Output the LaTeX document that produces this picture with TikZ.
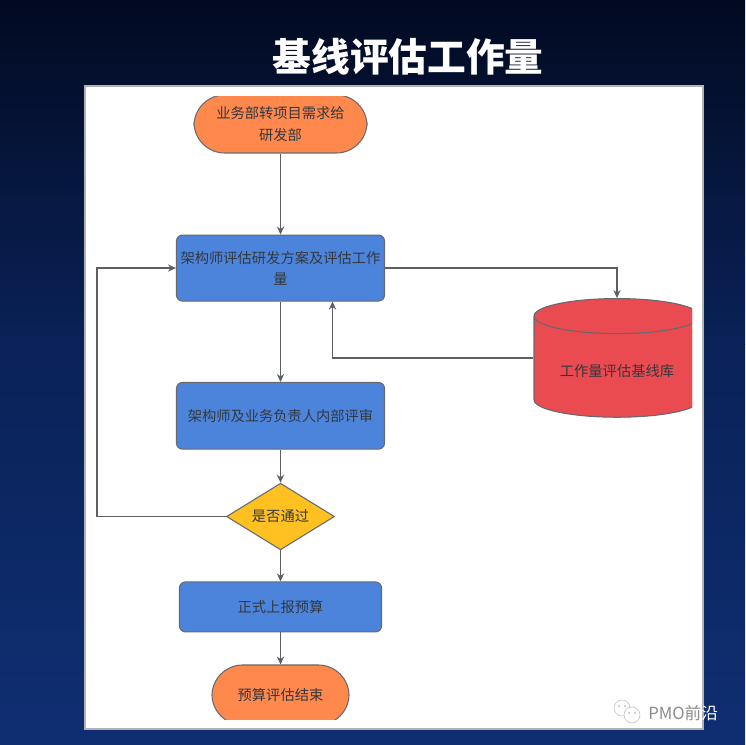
\documentclass[tikz,border=0pt]{standalone}
\usepackage{xcolor}
\usepackage{fontspec}
\usepackage{tikz}
\usetikzlibrary{arrows.meta,positioning,shapes.geometric,shapes.misc}
\newfontfamily\cjk{Noto Sans CJK SC}
\definecolor{night}{HTML}{020A22}
\definecolor{deep}{HTML}{0A2258}
\definecolor{ocean}{HTML}{0F2E72}
\definecolor{slate}{HTML}{666A70}
\definecolor{ink}{HTML}{33383F}
\definecolor{cobalt}{HTML}{4D84DB}
\definecolor{coral}{HTML}{FF884D}
\definecolor{scarlet}{HTML}{E94B50}
\definecolor{honey}{HTML}{FFC022}
\tikzset{
  box/.style={rectangle, rounded corners=4.5pt, draw=slate, fill=cobalt, line width=0.8pt,
              align=center, inner sep=1pt, text=ink, font=\cjk\fontsize{10.7}{16}\selectfont},
  terminal/.style={box, rounded corners=23pt, fill=coral},
  decision/.style={box, diamond, rounded corners=0pt, fill=honey, aspect=1.64, minimum width=81pt, minimum height=50pt, inner sep=0pt},
  store/.style={box, cylinder, rounded corners=0pt, fill=scarlet, shape border rotate=90, aspect=0.3, cylinder uses custom fill, cylinder body fill=scarlet, cylinder end fill=scarlet},
  flow/.style={-{Stealth[length=6pt,width=5.5pt]}, draw=ink!80, line width=0.9pt}
}
\begin{document}
\begin{tikzpicture}[x=0.75pt,y=0.75pt]
 \useasboundingbox (0,0) rectangle (745,745);
 \fill[top color=night, bottom color=deep] (0,745) rectangle (745,400);
 \fill[top color=deep, bottom color=ocean] (0,400) rectangle (745,0);
 \node[text=white, font=\cjk\bfseries\fontsize{29}{34}\selectfont] (title) at (408,688) {基线评估工作量};
 \fill[white, draw=black!30, line width=1pt] (85,16) rectangle (703,659);
 \begin{scope}
 \clip (85,25) rectangle (692,648);
 \node[terminal, minimum width=129.75pt, minimum height=43.5pt] (start) at (280.5,621) {业务部转项目需求给\\研发部};
 \node[box, below=60.75pt of start, minimum width=156pt, minimum height=49.5pt] (arch) {架构师评估研发方案及评估工作\\量};
 \node[box, below=60.25pt of arch, minimum width=156pt, minimum height=50pt] (review) {架构师及业务负责人内部评审};
 \node[decision, below=24.75pt of review] (pass) {是否通过};
 \node[box, below=23.25pt of pass, minimum width=151.5pt, minimum height=37.5pt] (report) {正式上报预算};
 \node[terminal, below=24pt of report, minimum width=102.75pt, minimum height=45pt] (finish) {预算评估结束};
 \node[store, minimum width=124.5pt, minimum height=89pt] (base) at (617,376.5) {\raisebox{-1.9pt}[\height][\depth]{工作量评估基线库}};
 \coordinate (archin) at ([xshift=39pt]arch.south);
 \coordinate (baseout) at ([yshift=7.9pt]base.west);
 \coordinate (rail) at (97,0);
 \coordinate (back) at (rail |- pass.west);
 \draw[flow](start)--(arch);
 \draw[flow](arch)--(review);
 \draw[flow](review)--(pass);
 \draw[flow](pass)--(report);
 \draw[flow](report)--(finish);
 \draw[flow](arch.east)-|(base.north);
 \draw[flow](baseout)-|(archin);
 \draw[flow](pass.west)--(back)|-(arch.west);
 \end{scope}
 % watermark
 \draw[black!25, line width=0.4pt] (622,37) circle (8);
 \draw[black!25, line width=0.4pt, fill=white] (632,30) circle (8);
 \fill[black!35] (619,39) circle (0.8) (625,39) circle (0.8) (629,32) circle (0.8) (635,32) circle (0.8);
 \node[anchor=west, inner sep=0pt, font=\cjk\fontsize{12.5}{14}\selectfont, text=black!45] (mark) at (648,32) {PMO前\textcolor{white}{沿}};
\end{tikzpicture}
\end{document}
